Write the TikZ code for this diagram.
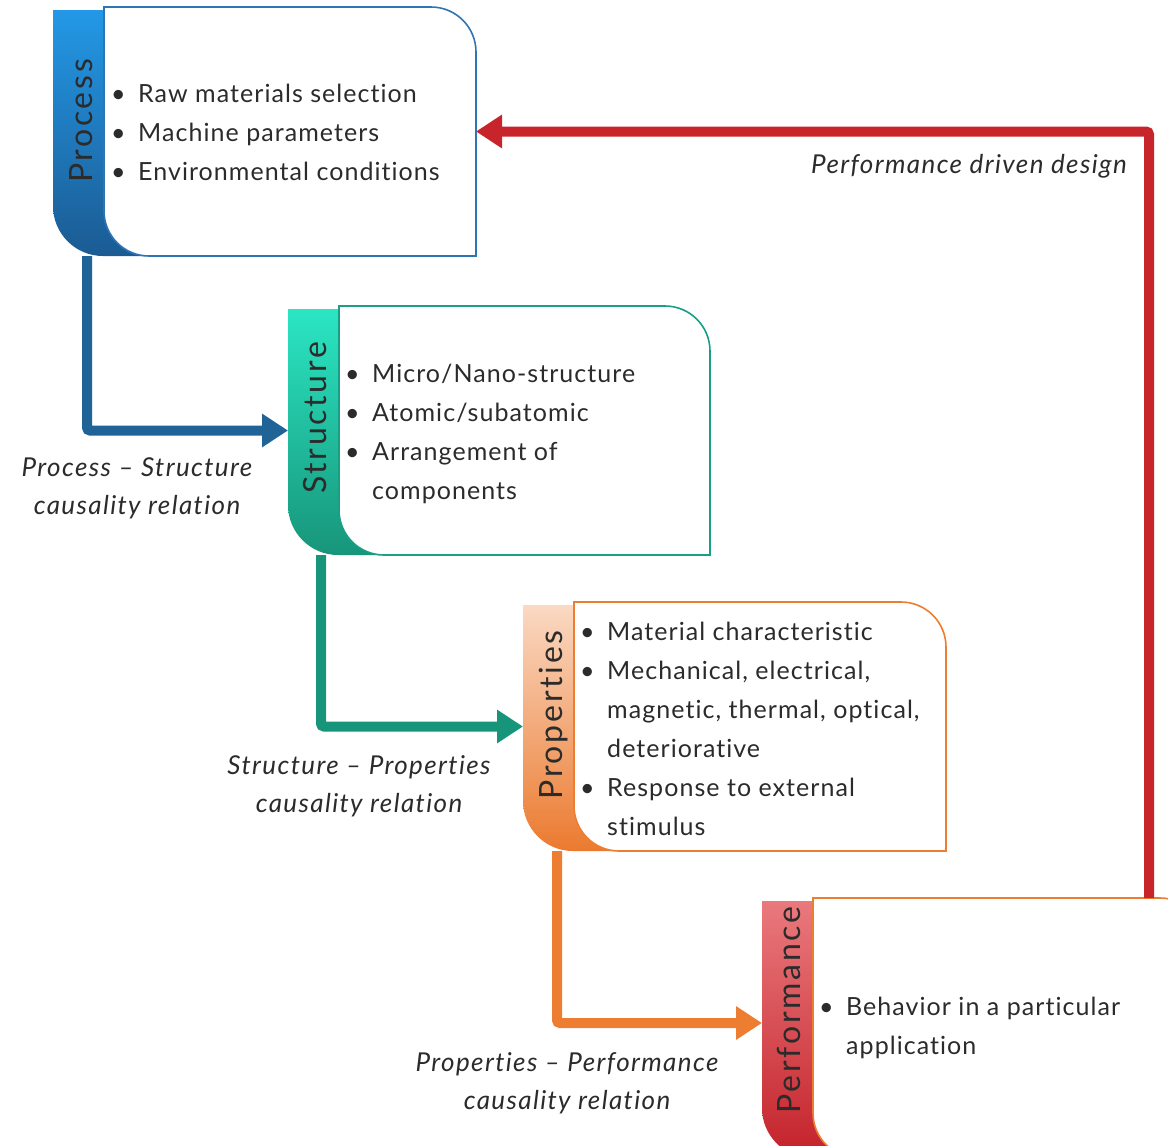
\documentclass[tikz,border=0pt]{standalone}
\usepackage{fontspec}
\setmainfont{Lato}[Ligatures={TeX,NoCommon}]
\usetikzlibrary{arrows.meta}

% palettes: A = tab top, B = tab bottom, L = box outline
\definecolor{procA}{HTML}{2398E6}
\definecolor{procB}{HTML}{1B5B93}
\definecolor{procL}{HTML}{2E75B6}
\definecolor{strA}{HTML}{2BE6C3}
\definecolor{strB}{HTML}{17957A}
\definecolor{strL}{HTML}{1A9E85}
\definecolor{propA}{HTML}{FAD9C3}
\definecolor{propB}{HTML}{EB7A2F}
\definecolor{propL}{HTML}{ED7D31}
\definecolor{perfA}{HTML}{E9797D}
\definecolor{perfB}{HTML}{C4222A}
\definecolor{perfL}{HTML}{ED7D31}
\definecolor{arBlue}{HTML}{1F6397}
\definecolor{arGreen}{HTML}{17957A}
\definecolor{arOrange}{HTML}{ED7D31}
\definecolor{arRed}{HTML}{C8242B}
\definecolor{ink}{HTML}{2B2B2B}

% a block: tab with title strip plus a white box with two rounded corners
% #1 name, #2 left x, #3 top y, #4 right x, #5 bottom y, #6 palette (y measured downwards)
\newcommand\blk[6]{%
  \node[inner sep=0pt, outer sep=0pt, minimum width={#4-#2}, minimum height={#5-#3},
        anchor=north west] (#1) at (#2,-#3) {};
  \shade[top color=#6A, bottom color=#6B]
    (#2,{-#3-3}) -- (#2,{-#5+50}) arc[start angle=180, end angle=270, radius=50]
    -- ({#2+110},-#5) -- ({#2+110},{-#3-3}) -- cycle;
  \filldraw[fill=white, draw=#6L, line width=1.6pt]
    ({#2+51},-#3) -- ({#2+51},{-#5+45}) arc[start angle=180, end angle=270, radius=45]
    -- (#4,-#5) -- (#4,{-#3-45}) arc[start angle=0, end angle=90, radius=45] -- cycle;
}
\newcommand\bul{\makebox[27pt][l]{\textbullet}}
\newcommand\ind{\hspace*{27pt}}

\begin{document}
\begin{tikzpicture}[x=1pt, y=1pt,
  title/.style={rotate=90, anchor=base, inner sep=0pt, text=ink,
                font=\fontsize{32}{32}\selectfont\addfontfeature{LetterSpace=8.5}},
  items/.style={anchor=north west, inner sep=0pt, align=left, text=ink,
                font=\fontsize{25}{39}\selectfont\addfontfeature{LetterSpace=4.2}},
  caption/.style={align=center, inner sep=0pt, text=ink,
                  font=\itshape\fontsize{26}{38}\selectfont\addfontfeature{LetterSpace=5.3}},
  flow/.style={line width=10pt, rounded corners=3pt,
               -{Triangle[width=32pt, length=26pt]}}]
\clip (0,0) rectangle (1168,-1146);

% blocks
\blk{proc}{53}{7}{476}{256}{proc}
\blk{str}{288}{306}{710}{555}{str}
\blk{prop}{523}{602}{946}{851}{prop}
\blk{perf}{762}{898}{1205}{1158}{perf}

% tab titles
\node[title] (proct) at (92,-121) {Process};
\node[title] (strt)  at (326,-418) {Structure};
\node[title] (propt) at (562,-715) {Properties};
\node[title] (perft) at (800,-1010) {Performance};

% bullet lists
\node[items] (proci) at (111,-84) {\bul Raw materials selection\\
  \bul Machine parameters\\ \bul Environmental conditions};
\node[items] (stri) at (345,-364) {\bul Micro/Nano-structure\\
  \bul Atomic/subatomic\\ \bul Arrangement of\\ \ind components};
\node[items] (propi) at (580,-622) {\bul Material characteristic\\
  \bul Mechanical, electrical,\\ \ind magnetic, thermal, optical,\\
  \ind deteriorative\\ \bul Response to external\\ \ind stimulus};
\node[items] (perfi) at (819,-997) {\bul Behavior in a particular\\ \ind application};

% causal connectors
\draw[flow, arBlue]   ([xshift=34pt]proc.south west) |- (str.west);
\draw[flow, arGreen]  ([xshift=33pt]str.south west)  |- (prop.west);
\draw[flow, arOrange] ([xshift=34pt]prop.south west) |- ([yshift=5pt]perf.west);
\draw[flow, arRed]    ([xshift=387pt]perf.north west) |- (proc.east);

% connector captions
\node[caption] (c1) at (137,-488) {Process – Structure\\causality relation};
\node[caption] (c2) at (359,-786) {Structure – Properties\\causality relation};
\node[caption] (c3) at (567,-1083) {Properties – Performance\\causality relation};
\node[caption, anchor=east] (c4) at (1127,-166) {Performance driven design};
\end{tikzpicture}
\end{document}
